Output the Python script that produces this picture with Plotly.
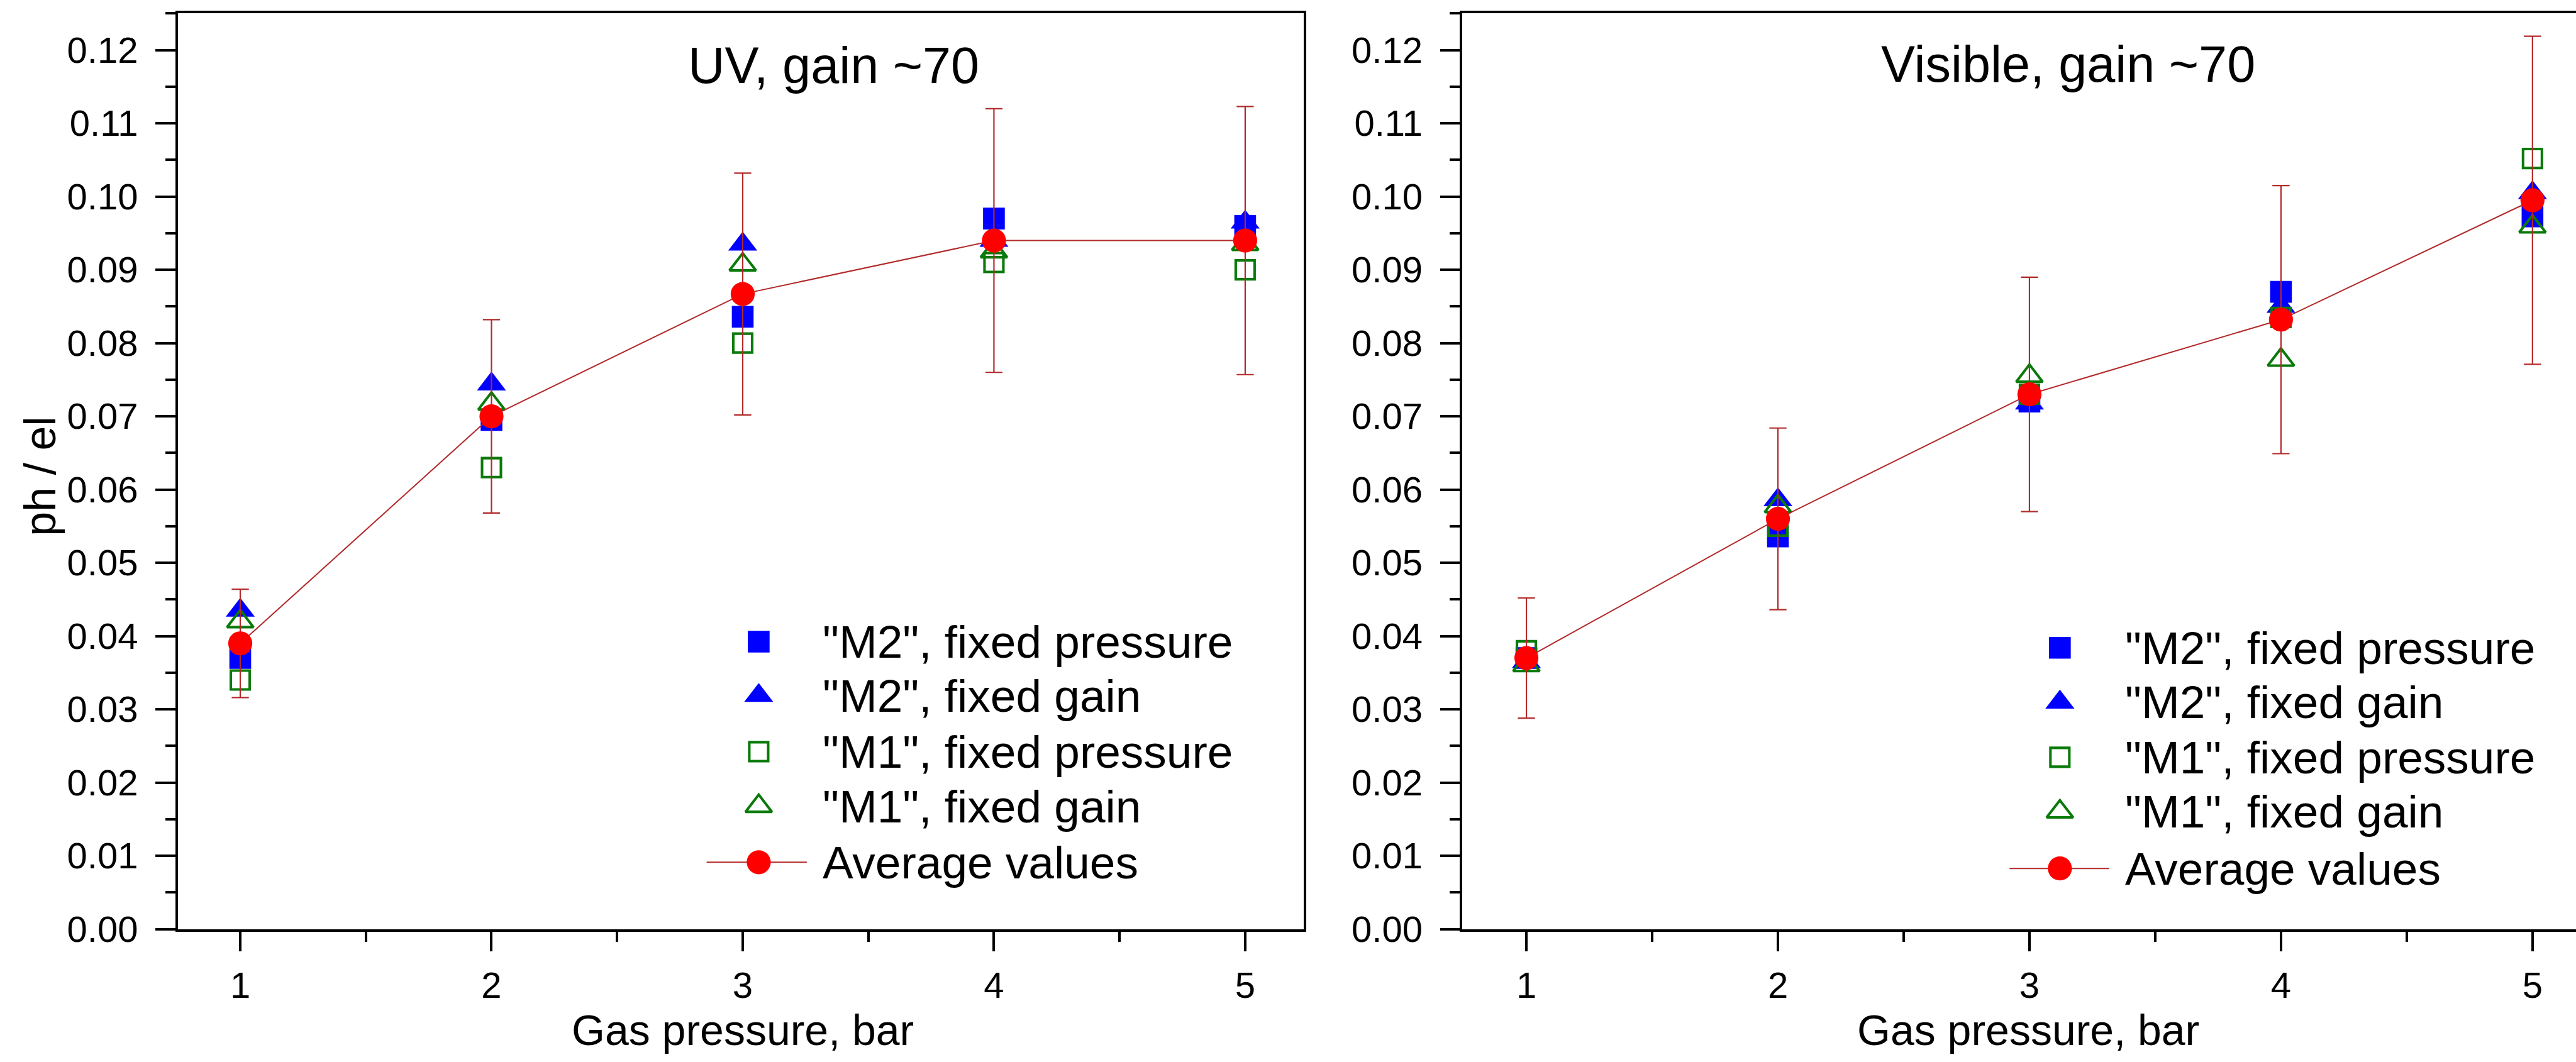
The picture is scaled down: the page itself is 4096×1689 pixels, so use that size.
import plotly.graph_objects as go

# ---------------- data ----------------
pressure = [1, 2, 3, 4, 5]

uv_m2_fixed_pressure = [0.037, 0.0695, 0.0836, 0.097, 0.096]
uv_m2_fixed_gain = [0.0435, 0.0744, 0.0935, 0.094, 0.0965]
uv_m1_fixed_pressure = [0.034, 0.063, 0.080, 0.091, 0.090]
uv_m1_fixed_gain = [0.042, 0.0717, 0.0907, 0.0925, 0.0935]
uv_average = [0.039, 0.070, 0.0867, 0.094, 0.094]
uv_error = [0.0074, 0.0132, 0.0165, 0.018, 0.0183]

vis_m2_fixed_pressure = [0.037, 0.0536, 0.072, 0.087, 0.0973]
vis_m2_fixed_gain = [0.0365, 0.0586, 0.0718, 0.085, 0.1005]
vis_m1_fixed_pressure = [0.038, 0.055, 0.073, 0.0835, 0.1052]
vis_m1_fixed_gain = [0.036, 0.0577, 0.0755, 0.0777, 0.0959]
vis_average = [0.037, 0.056, 0.073, 0.0832, 0.0995]
vis_error = [0.0082, 0.0124, 0.016, 0.0183, 0.0224]

series_names = ['"M2", fixed pressure', '"M2", fixed gain',
                '"M1", fixed pressure', '"M1", fixed gain', 'Average values']
panel_titles = ["UV, gain ~70", "Visible, gain ~70"]
x_title = "Gas pressure, bar"
y_title = "ph / el"

# ---------------- style ----------------
S = 4096 / 4502  # scale from reference pixels
W, H = 4096, 1689
FONT = "Liberation Sans, Arial, sans-serif"
BLUE = "#0000FF"
GREEN = "#0A7A0A"
RED = "#FF0000"
WINE = "#B22A2A"

def fx(px):  # reference x pixel -> paper fraction
    return px / 4502

def fy(py):  # reference y pixel -> paper fraction
    return 1 - py / 1856

SQ = 38 * S
TRI = 44 * S
OSQ = 33 * S
OTRI = 40 * S
CIRC = 42 * S
LW = 4.5 * S

marker_specs = [
    dict(symbol="square", size=SQ, color=BLUE),
    dict(symbol="triangle-up", size=TRI, color=BLUE),
    dict(symbol="square-open", size=OSQ, color=GREEN, line=dict(width=LW, color=GREEN)),
    dict(symbol="triangle-up-open", size=OTRI, color=GREEN, line=dict(width=LW, color=GREEN)),
    dict(symbol="circle", size=CIRC, color=RED),
]

fig = go.Figure()

panels = [
    ("x", "y", [uv_m2_fixed_pressure, uv_m2_fixed_gain, uv_m1_fixed_pressure, uv_m1_fixed_gain],
     uv_average, uv_error),
    ("x2", "y2", [vis_m2_fixed_pressure, vis_m2_fixed_gain, vis_m1_fixed_pressure, vis_m1_fixed_gain],
     vis_average, vis_error),
]

for xa, ya, singles, avg, err in panels:
    for name, vals, mk in zip(series_names[:4], singles, marker_specs[:4]):
        fig.add_trace(go.Scatter(x=pressure, y=vals, mode="markers", name=name,
                                 marker=mk, xaxis=xa, yaxis=ya, showlegend=False,
                                 cliponaxis=False))
    fig.add_trace(go.Scatter(x=pressure, y=avg, mode="lines+markers", name=series_names[4],
                             line=dict(color=WINE, width=2.2 * S),
                             marker=marker_specs[4],
                             error_y=dict(type="data", array=err, visible=True,
                                          color=WINE, thickness=2.4 * S, width=15 * S),
                             xaxis=xa, yaxis=ya, showlegend=False, cliponaxis=False))

# ---------------- custom legends (hidden overlay axis in paper units) ----------------
legend_layout = [
    # marker x, line x0, line x1, text x, row ys (reference pixels)
    (1326, 1235, 1410, 1436, [1143, 1239, 1339, 1436, 1536]),
    (3600, 3512, 3686, 3712, [1154, 1251, 1349, 1446, 1547]),
]
annotations = []
for mxp, l0, l1, txp, rows in legend_layout:
    for i, (name, mk) in enumerate(zip(series_names, marker_specs)):
        yy = fy(rows[i])
        if i == 4:
            fig.add_trace(go.Scatter(x=[fx(l0), fx(l1)], y=[yy, yy], mode="lines",
                                     line=dict(color=WINE, width=2.2 * S),
                                     xaxis="x3", yaxis="y3", showlegend=False, hoverinfo="skip"))
        fig.add_trace(go.Scatter(x=[fx(mxp)], y=[yy], mode="markers", marker=mk,
                                 xaxis="x3", yaxis="y3", showlegend=False, hoverinfo="skip"))
        annotations.append(dict(x=fx(txp), y=yy, xref="paper", yref="paper",
                                text=name, showarrow=False, xanchor="left", yanchor="middle",
                                font=dict(family=FONT, size=73, color="black")))

# panel titles
annotations.append(dict(x=fx(1457), y=fy(116), xref="paper", yref="paper", text=panel_titles[0],
                        showarrow=False, xanchor="center", yanchor="middle",
                        font=dict(family=FONT, size=81, color="black")))
annotations.append(dict(x=fx(3615), y=fy(114), xref="paper", yref="paper", text=panel_titles[1],
                        showarrow=False, xanchor="center", yanchor="middle",
                        font=dict(family=FONT, size=81, color="black")))
# axis titles (bottom-anchored at the figure edge, descenders slightly clipped like the reference)
for xc in (1298, 3545):
    annotations.append(dict(x=fx(xc), y=0, xref="paper", yref="paper", text=x_title,
                            showarrow=False, xanchor="center", yanchor="bottom", yshift=-20,
                            borderpad=0,
                            font=dict(family=FONT, size=68, color="black")))
annotations.append(dict(x=fx(70), y=fy(848), xref="paper", yref="paper", text=y_title,
                        showarrow=False, xanchor="center", yanchor="middle", textangle=-90,
                        font=dict(family=FONT, size=70, color="black")))

# ---------------- axes ----------------
ydom = [fy(1655), fy(24)]
tickfont = dict(family=FONT, size=58, color="black")
common_x = dict(showline=True, linecolor="black", linewidth=LW, mirror=True,
                ticks="outside", ticklen=35 * S, tickwidth=LW, tickcolor="black",
                tickmode="linear", tick0=1, dtick=1,
                minor=dict(ticks="outside", ticklen=18 * S, tickwidth=LW, tickcolor="black", dtick=0.5),
                showgrid=False, zeroline=False, tickfont=tickfont, ticklabelstandoff=4)
common_y = dict(range=[0, 0.125], domain=ydom, showline=True, linecolor="black", linewidth=LW,
                ticks="outside", ticklen=35 * S, tickwidth=LW, tickcolor="black",
                tickmode="linear", tick0=0, dtick=0.01, tickformat=".2f",
                minor=dict(ticks="outside", ticklen=18 * S, tickwidth=LW, tickcolor="black", dtick=0.005),
                showgrid=False, zeroline=False, tickfont=tickfont, ticklabelstandoff=16)

fig.update_layout(
    width=W, height=H,
    margin=dict(l=0, r=0, t=0, b=0),
    paper_bgcolor="white", plot_bgcolor="rgba(0,0,0,0)",
    showlegend=False,
    font=dict(family=FONT, color="black"),
    xaxis=dict(common_x, domain=[fx(311), fx(2278)], range=[0.752, 5.232], anchor="y"),
    yaxis=dict(common_y, anchor="x", mirror=True),
    xaxis2=dict(common_x, domain=[fx(2556), 1.0], range=[0.746, 5.173], anchor="y2"),
    yaxis2=dict(common_y, anchor="x2", mirror=False),
    xaxis3=dict(domain=[0, 1], range=[0, 1], visible=False, anchor="y3", fixedrange=True),
    yaxis3=dict(domain=[0, 1], range=[0, 1], visible=False, anchor="x3", fixedrange=True),
    yaxis4=dict(range=[0, 0.125], domain=ydom, overlaying="y", side="right", anchor="x",
                showline=False, showticklabels=False, showgrid=False, zeroline=False,
                ticks="inside", ticklen=35 * S, tickwidth=LW, tickcolor="black",
                tickmode="linear", tick0=0, dtick=0.01,
                minor=dict(ticks="inside", ticklen=18 * S, tickwidth=LW, tickcolor="black", dtick=0.005)),
    annotations=annotations,
)

fig.write_html("out.html")
